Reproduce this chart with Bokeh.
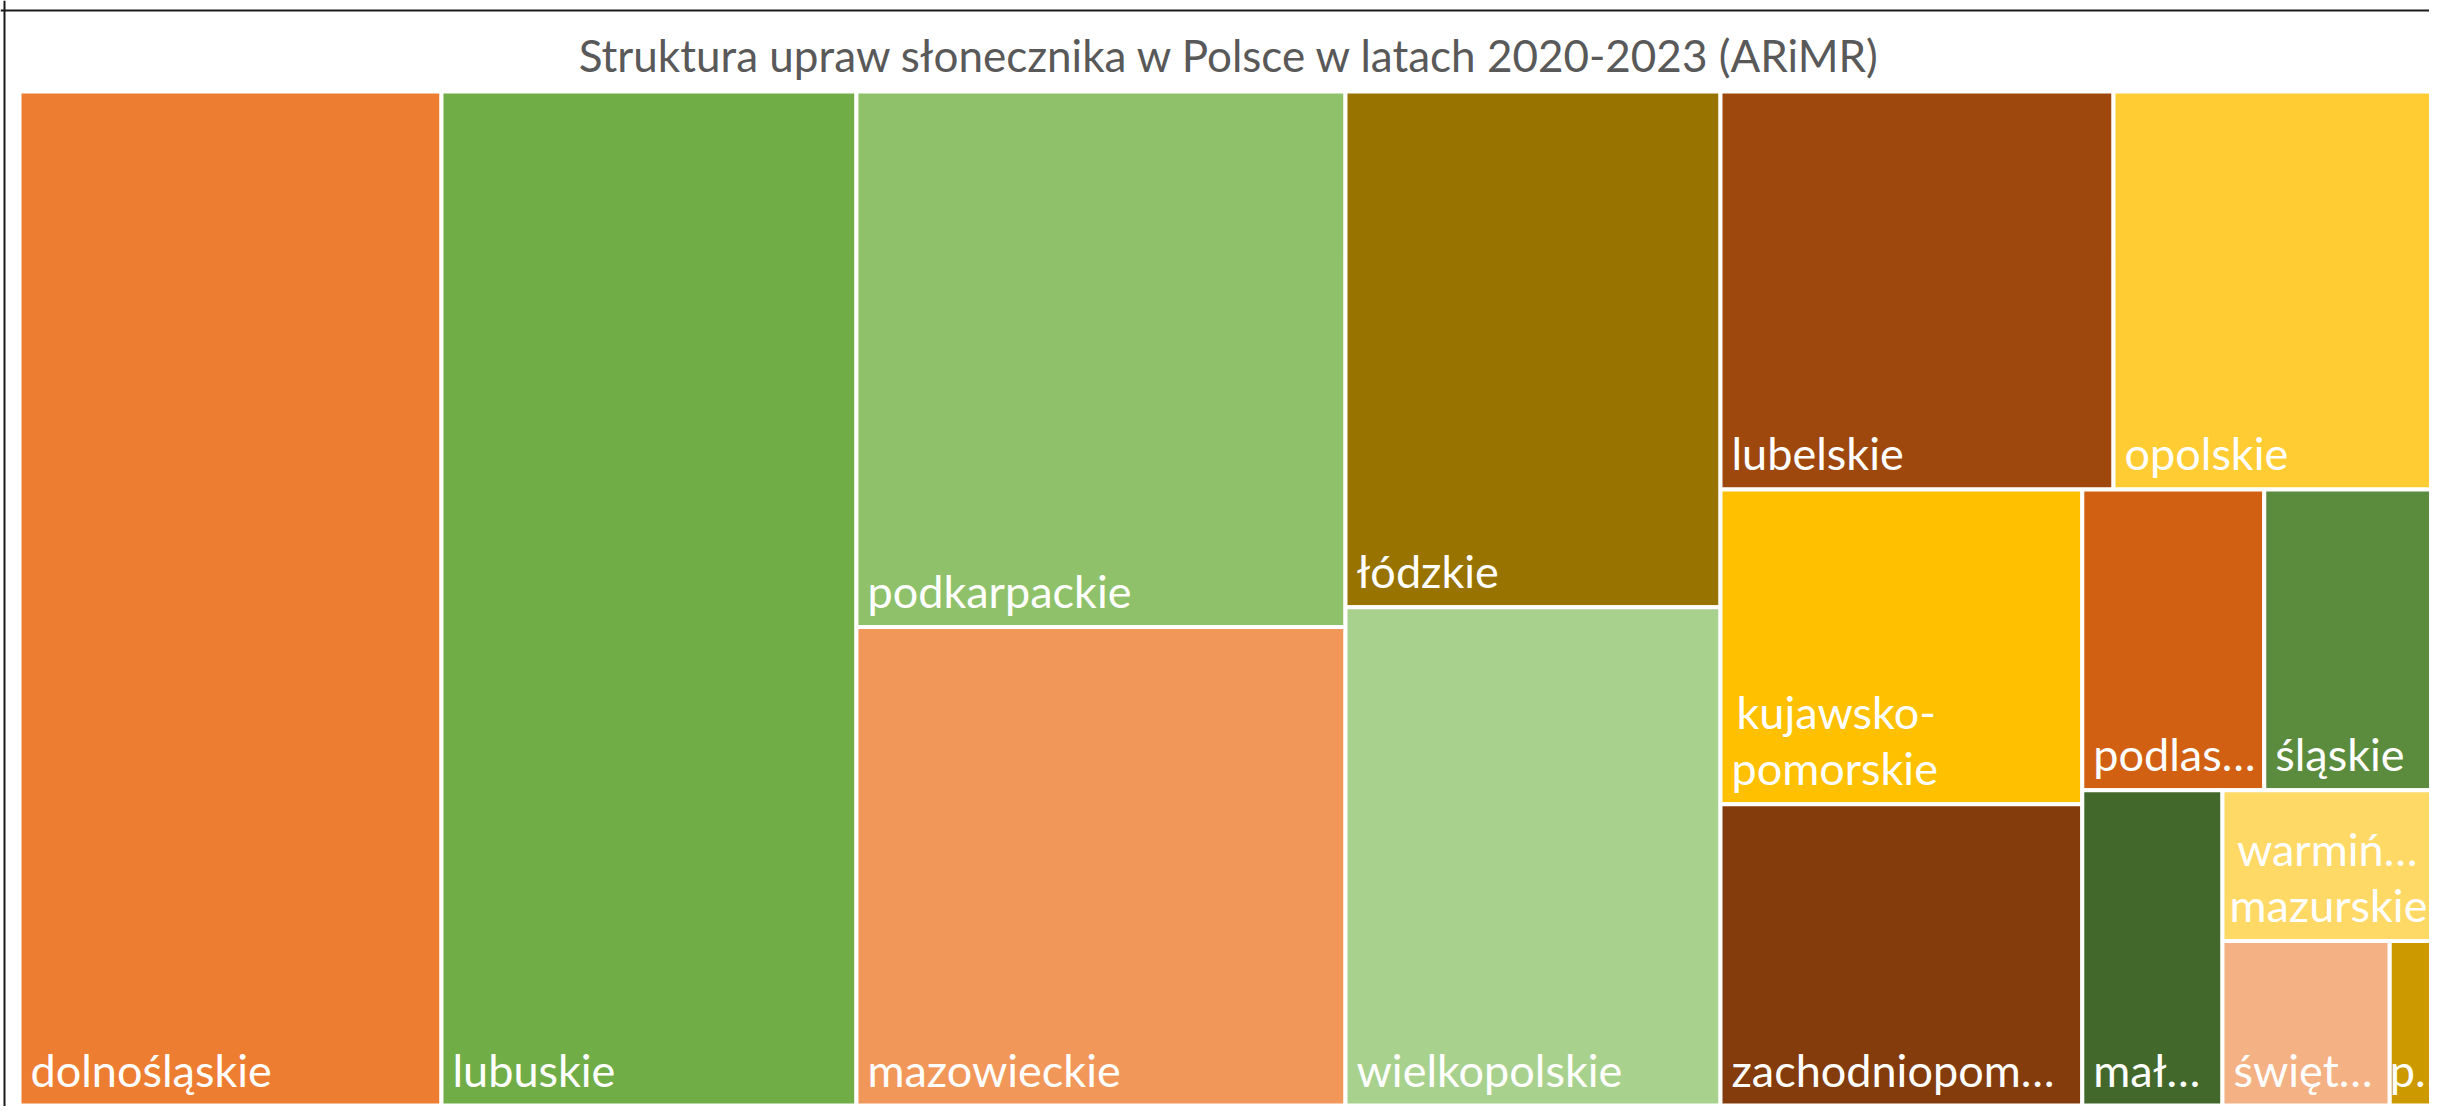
import math
from bokeh.plotting import figure
from bokeh.models import Range1d, ColumnDataSource, Label, Span
from bokeh.core.properties import value
from bokeh.embed import file_html
from bokeh.resources import INLINE

# ---------------- data ----------------
title_text = "Struktura upraw słonecznika w Polsce w latach 2020-2023 (ARiMR)"
regions = ["dolnośląskie", "lubuskie", "podkarpackie", "mazowieckie", "łódzkie",
           "wielkopolskie", "lubelskie", "opolskie", "kujawsko-pomorskie",
           "zachodniopomorskie", "podlaskie", "śląskie", "małopolskie",
           "warmińsko-mazurskie", "świętokrzyskie", "pomorskie"]
shares = [17.43, 17.14, 10.67, 9.53, 7.88, 7.61, 6.37, 5.30, 4.64, 4.44,
          2.23, 2.16, 1.80, 1.34, 1.12, 0.34]
shown_labels = ["dolnośląskie", "lubuskie", "podkarpackie", "mazowieckie", "łódzkie",
                "wielkopolskie", "lubelskie", "opolskie", "kujawsko-\npomorskie",
                "zachodniopom…", "podlas…", "śląskie", "mał…", "warmiń…\nmazurskie",
                "święt…", "p…"]
colors = ["#ED7D31", "#70AD47", "#8FC16A", "#F1975A", "#997300", "#A9D18E",
          "#9E480E", "#FFCD33", "#FFC000", "#843C0C", "#D26012", "#5B8B3C",
          "#43682B", "#FFD966", "#F4B183", "#CC9A00"]

# ---------------- layout parameters ----------------
W, H = 2429, 1106          # figure size
FRAME = (19, 91, 2440, 1105)  # treemap area in picture pixels (extends past right edge)
TARGET = 1.28              # preferred cell height/width ratio
FONT = "Lato"
LABEL_SIZE = 45
LINE_H = 56
BOTTOM_PAD = 36

# approximate Lato advance widths (em) used only to centre wrapped label lines
CHAR_W = {"a": .505, "b": .566, "c": .462, "d": .566, "e": .52, "i": .236, "j": .236,
          "k": .49, "l": .236, "m": .85, "n": .566, "ń": .566, "o": .566, "p": .566,
          "r": .38, "s": .43, "u": .566, "w": .76, "z": .45, "-": .34, "…": .8}


def est_width(s):
    return sum(CHAR_W.get(c, .5) for c in s) * LABEL_SIZE


def treemap(vals, x0, y0, x1, y1, target):
    L = math.log(target)
    total = float(sum(vals))
    k = (x1 - x0) * (y1 - y0) / total
    areas = [v * k for v in vals]
    out = []
    i = 0
    while i < len(areas):
        w, h = x1 - x0, y1 - y0
        vertical = h <= w
        side = h if vertical else w

        def worst(strip):
            thick = sum(strip) / side
            res = 0.0
            for a in strip:
                ln = a / thick
                cw, ch = (thick, ln) if vertical else (ln, thick)
                res = max(res, abs(math.log(ch / cw) - L))
            return res

        n = 1
        while i + n < len(areas) and worst(areas[i:i + n + 1]) <= worst(areas[i:i + n]):
            n += 1
        strip = areas[i:i + n]
        thick = sum(strip) / side
        pos = y0 if vertical else x0
        for a in strip:
            ln = a / thick
            if vertical:
                out.append((x0, pos, x0 + thick, pos + ln))
            else:
                out.append((pos, y0, pos + ln, y0 + thick))
            pos += ln
        if vertical:
            x0 += thick
        else:
            y0 += thick
        i += n
    return out


rects = treemap(shares, *FRAME, TARGET)

src = ColumnDataSource(dict(
    left=[r[0] for r in rects], right=[r[2] for r in rects],
    top=[r[1] for r in rects], bottom=[r[3] for r in rects],
    color=colors, name=regions, share=shares))

p = figure(width=W, height=H, output_backend="svg", toolbar_location=None,
           x_range=Range1d(0, W), y_range=Range1d(H, 0),
           min_border=0, min_border_left=0, min_border_right=0,
           min_border_top=0, min_border_bottom=0)
p.axis.visible = False
p.xgrid.visible = False
p.ygrid.visible = False
p.outline_line_color = None
p.background_fill_color = "white"
p.border_fill_color = "white"

p.quad(left="left", right="right", top="top", bottom="bottom", source=src,
       fill_color="color", line_color="white", line_width=4)

# labels (bottom-left of each cell, wrapped lines centred on each other)
lx, ly, lt = [], [], []
for r, lab in zip(rects, shown_labels):
    lines = lab.split("\n")
    width = r[2] - r[0]
    if width < 80:
        pad = 0
    elif width < 250 and len(lines) > 1:
        pad = 7
    else:
        pad = 11
    n = len(lines)
    block = max(est_width(s) for s in lines)
    for j, line in enumerate(lines):
        shift = (block - est_width(line)) / 2 if n > 1 else 0
        lx.append(r[0] + pad + shift)
        ly.append(r[3] - BOTTOM_PAD - (n - 1 - j) * LINE_H)
        lt.append(line)

p.text(x=lx, y=ly, text=lt, text_color="white", text_font=value(FONT),
       text_font_size=f"{LABEL_SIZE}px", text_align="left", text_baseline="alphabetic")

# chart border (top and left)
p.add_layout(Span(location=10, dimension="width", line_color="#1a1a1a", line_width=2))
p.add_layout(Span(location=4, dimension="height", line_color="#1a1a1a", line_width=2))

# title
chart_left, chart_right = 4, 2456
p.add_layout(Label(x=(chart_left + chart_right) / 2, y=54, text=title_text,
                   text_align="center", text_baseline="middle",
                   text_font=FONT, text_font_size="44px", text_color="#595959"))

open("out.html", "w").write(file_html(p, INLINE))
